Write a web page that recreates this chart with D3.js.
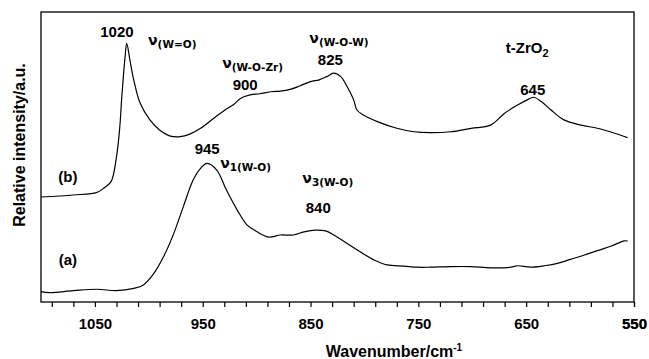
<!DOCTYPE html>
<html>
<head>
<meta charset="utf-8">
<script src="https://cdn.jsdelivr.net/npm/d3@7"></script>
<style>
  body { margin: 0; background: #fff; }
  text { font-family: "Liberation Sans", Arial, sans-serif; font-weight: bold; fill: #000; }
  .nu { font-family: "DejaVu Sans", sans-serif; }
</style>
</head>
<body>
<div id="chart"></div>
<script>
/* Raman spectra (a) and (b) */

const height = 359,
    width = 649,
    margin = ({ top: 12, right: 15, bottom: 57, left: 41 });

// wavenumber (cm-1) and relative intensity (a.u., 0-100)
const waveB = [1100, 1070, 1048, 1041, 1035, 1030, 1027, 1025, 1022, 1020.5, 1017.5, 1014, 1008, 999, 990, 980, 971, 962,
    952, 940, 930, 921, 915, 906, 897, 887, 878, 869, 860, 850, 842, 835, 828.5, 822, 816, 810, 807, 801,
    788, 770, 754, 739, 720, 701, 683, 670, 658, 649, 643, 636, 627, 615, 599, 584, 568, 556];
const intenB = [36.2, 36.9, 37.8, 39.5, 41.5, 50.0, 60.0, 71.0, 84.6, 89.2, 83.4, 76.6, 68.5, 62.8, 59.3, 57.2, 57.0, 57.9,
    59.9, 63.3, 66.0, 68.2, 70.2, 71.4, 71.8, 72.5, 72.7, 73.3, 74.5, 76.0, 76.6, 77.7, 78.9, 77.7, 74.2, 69.7, 66.2, 64.5,
    62.2, 59.9, 58.7, 58.4, 58.7, 59.9, 61.0, 65.1, 67.9, 69.7, 70.6, 69.1, 66.2, 62.8, 61.0, 59.9, 58.2, 56.7];

const waveA = [1100, 1092, 1070, 1048, 1030, 1014, 1005, 996, 986.5, 977, 968, 959, 952, 946, 937, 928,
    918, 909, 900, 889, 878, 866, 856, 845.5, 836, 828.5, 816, 804, 791, 779, 763.5, 751, 739, 720,
    701.5, 683, 664, 658, 646, 633, 621, 609, 596, 584, 571, 559, 556];
const intenA = [3.6, 3.2, 3.9, 4.4, 3.9, 4.7, 5.9, 9.5, 15.5, 23.5, 32.9, 42.0, 46.1, 47.8, 45.5, 38.6,
    31.7, 26.6, 24.3, 22.4, 23.1, 23.1, 24.2, 24.8, 24.5, 23.1, 20.2, 17.3, 14.5, 12.8, 12.4, 12.0, 12.0, 12.2,
    12.2, 11.8, 12.0, 12.5, 12.0, 12.5, 13.3, 14.7, 16.2, 17.7, 19.3, 21.1, 21.0];

const tickValues = d3.range(1090, 549, -20);
const labelledTicks = [1050, 950, 850, 750, 650, 550];

// peak labels: text, wavenumber, intensity
const peakLabels = [
    ["1020", 1029.6, 91.4], ["900", 910.6, 73.1], ["825", 831.6, 81.7],
    ["645", 643.9, 71.4], ["945", 945.9, 51.0], ["840", 842.8, 30.7],
    ["(b)", 1075.1, 41.4], ["(a)", 1075.1, 12.8]
];
// vibration labels: subscript, wavenumber, intensity
const bandLabels = [
    ["(W=O)", 1000.7, 88.6], ["(W-O-Zr)", 932, 80.7], ["(W-O-W)", 851.1, 89.3],
    ["1(W-O)", 933.8, 46.2], ["3(W-O)", 857.6, 41.0]
];

const svg = d3.select("#chart")
    .append("svg")
    .attr("width", width)
    .attr("height", height);

let x = d3.scaleLinear()
    .domain([1100, 550])
    .range([margin.left, width - margin.right]);

let y = d3.scaleLinear()
    .domain([0, 100])
    .range([height - margin.bottom, margin.top]);

// x axis
let xAxis = svg.append("g")
    .attr("transform", `translate(0,${height - margin.bottom})`)
    .call(d3.axisBottom(x)
        .tickValues(tickValues.concat([550]))
        .tickSize(5)
        .tickSizeOuter(0)
        .tickPadding(11)
        .tickFormat(d => labelledTicks.includes(d) ? d : ""));
xAxis.select(".domain").remove();
xAxis.selectAll("line").attr("stroke", "#000").attr("stroke-width", 1.2);
xAxis.selectAll("text").style("font-size", "15px").style("font-family", "Liberation Sans, Arial, sans-serif").style("font-weight", "bold");

// frame
svg.append("rect")
    .attr("x", margin.left)
    .attr("y", margin.top)
    .attr("width", width - margin.left - margin.right)
    .attr("height", height - margin.top - margin.bottom)
    .attr("fill", "none")
    .attr("stroke", "#000")
    .attr("stroke-width", 1.3);

let line = d3.line()
    .x(d => x(d[0]))
    .y(d => y(d[1]))
    .curve(d3.curveCatmullRom.alpha(0.5));

svg.append("path")
    .datum(d3.zip(waveB, intenB))
    .attr("d", line)
    .attr("fill", "none")
    .attr("stroke", "#000")
    .attr("stroke-width", 1.2);

svg.append("path")
    .datum(d3.zip(waveA, intenA))
    .attr("d", line)
    .attr("fill", "none")
    .attr("stroke", "#000")
    .attr("stroke-width", 1.2);

// peak labels
svg.selectAll(".peak")
    .data(peakLabels)
    .join("text")
    .attr("class", "peak")
    .attr("x", d => x(d[1]))
    .attr("y", d => y(d[2]))
    .attr("text-anchor", "middle")
    .style("font-size", "15px")
    .text(d => d[0]);

// vibration labels
let band = svg.selectAll(".band")
    .data(bandLabels)
    .join("text")
    .attr("class", "band nu")
    .attr("x", d => x(d[1]))
    .attr("y", d => y(d[2]));
band.append("tspan").style("font-size", "14px").text("ν");
band.append("tspan").attr("dy", 3).style("font-size", "10.5px").text(d => d[0]);

// t-ZrO2
let zr = svg.append("text")
    .attr("x", x(668.9))
    .attr("y", y(85.9))
    .style("font-size", "15px");
zr.append("tspan").text("t-ZrO");
zr.append("tspan").attr("dy", 4).style("font-size", "11px").text("2");

// axis labels
let xl = svg.append("text")
    .attr("x", 394)
    .attr("y", 357)
    .attr("text-anchor", "middle")
    .style("font-size", "16px");
xl.append("tspan").text("Wavenumber/cm");
xl.append("tspan").attr("dy", -6).style("font-size", "10px").text("-1");

svg.append("text")
    .attr("transform", "rotate(-90)")
    .attr("x", -145)
    .attr("y", 25)
    .attr("text-anchor", "middle")
    .style("font-size", "16px")
    .text("Relative intensity/a.u.");
</script>
</body>
</html>
